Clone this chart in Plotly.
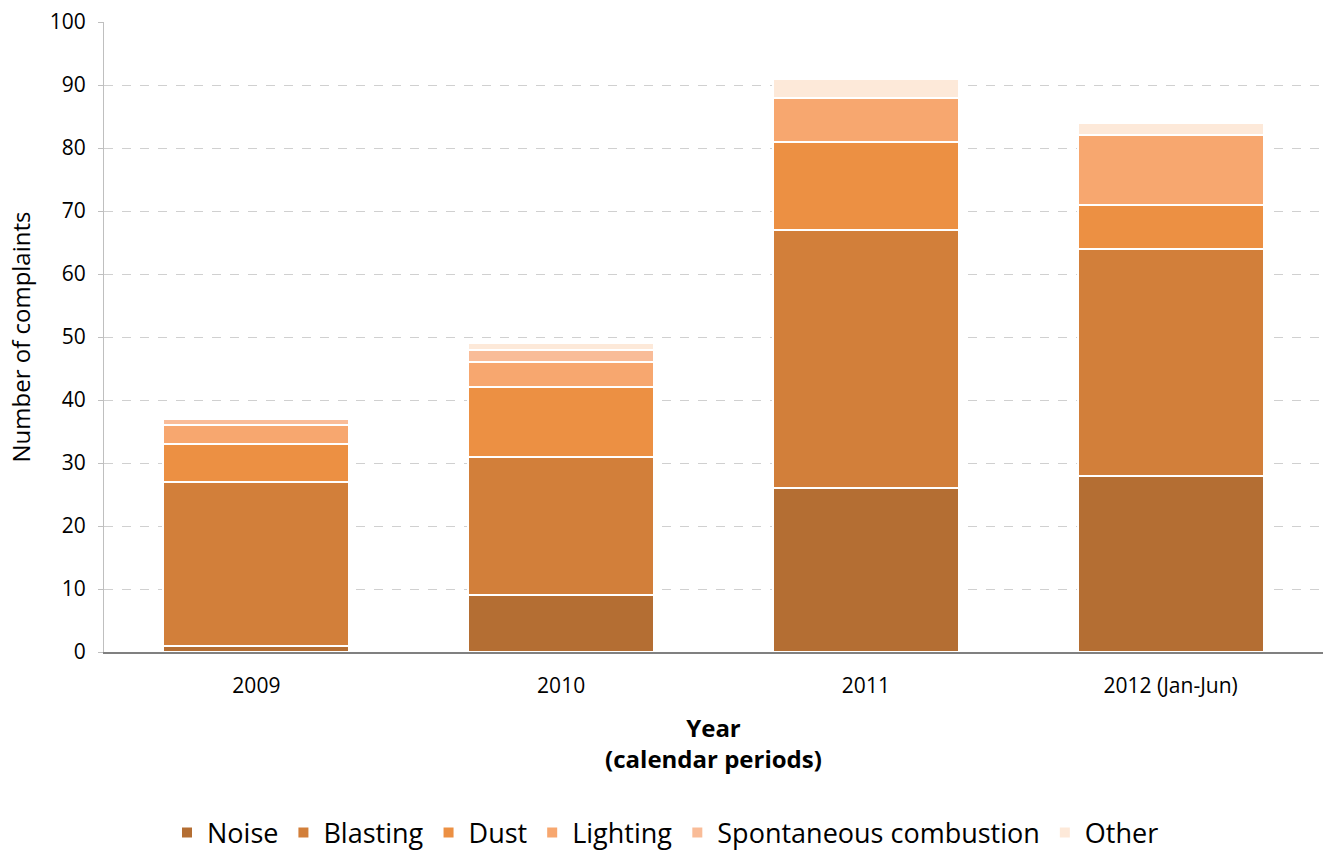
import plotly.graph_objects as go

categories = ["2009", "2010", "2011", "2012 (Jan-Jun)"]
noise = [1, 9, 26, 28]
blasting = [26, 22, 41, 36]
dust = [6, 11, 14, 7]
lighting = [3, 4, 7, 11]
spontaneous = [1, 2, 0, 0]
other = [0, 1, 3, 2]

series = [
    ("Noise", noise, "#B46E33"),
    ("Blasting", blasting, "#D27F3A"),
    ("Dust", dust, "#EC9043"),
    ("Lighting", lighting, "#F7A76F"),
    ("Spontaneous combustion", spontaneous, "#F9BC98"),
    ("Other", other, "#FDE9D9"),
]

fig = go.Figure()
for name, vals, col in series:
    fig.add_trace(go.Bar(
        x=categories, y=vals, name=name,
        marker=dict(color=col, line=dict(color="white", width=2)),
    ))

font_family = "Open Sans, sans-serif"
fig.update_layout(
    barmode="stack",
    bargap=0.39,
    width=1331, height=850,
    margin=dict(l=104, r=8, t=22, b=198, autoexpand=False),
    plot_bgcolor="white", paper_bgcolor="white",
    font=dict(family=font_family, size=21, color="#000000"),
    xaxis=dict(
        title=dict(text="<b>Year<br>(calendar periods)</b>", font=dict(size=24), standoff=22),
        showline=True, linecolor="#808080", linewidth=2,
        tickfont=dict(size=21), ticks="", ticklabelstandoff=14, automargin=False,
    ),
    yaxis=dict(
        title=dict(text="Number of complaints", font=dict(size=24), standoff=12),
        range=[0, 100], dtick=10,
        showgrid=True, gridcolor="#D0D0D0", griddash="dash", gridwidth=1,
        showline=True, linecolor="#BFBFBF", linewidth=1,
        ticks="outside", ticklen=5, tickcolor="#BFBFBF", ticklabelstandoff=8,
        tickfont=dict(size=21), zeroline=False, automargin=False,
    ),
    legend=dict(
        orientation="h", x=0.5, xanchor="center", xref="container",
        y=0.02, yanchor="middle", yref="container",
        font=dict(size=27), traceorder="normal",
    ),
)

fig.write_html("out.html")
